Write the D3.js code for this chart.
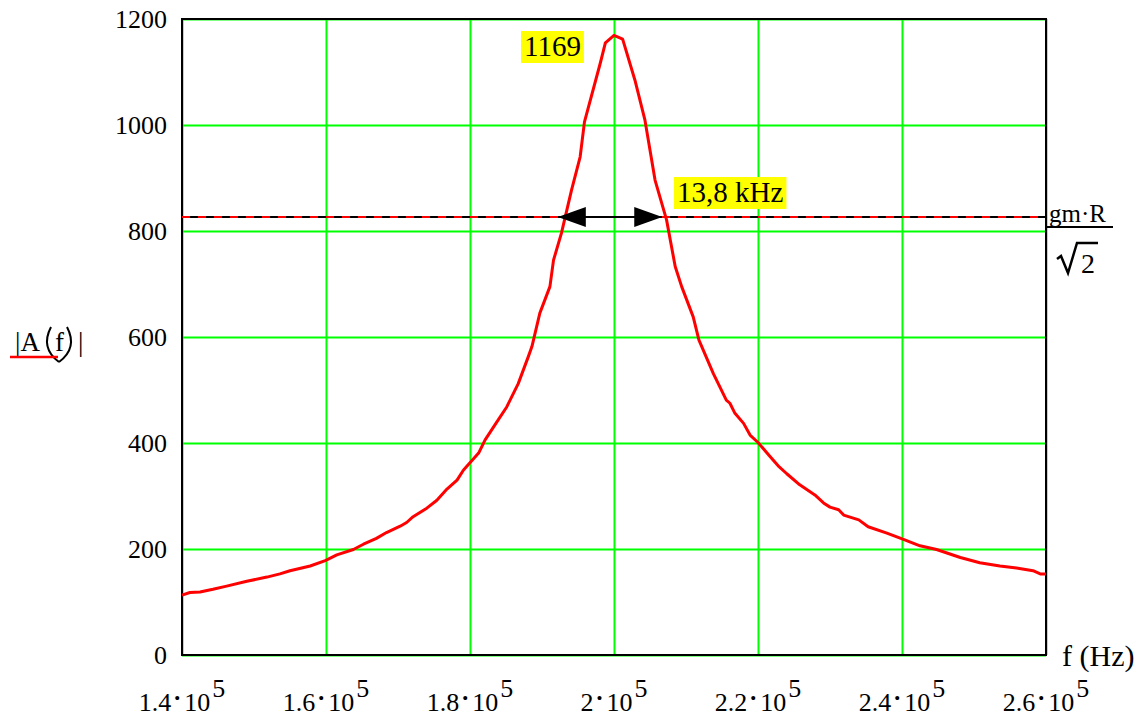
<!DOCTYPE html>
<html>
<head lang="en">
    <meta charset="UTF-8">
    <title>|A(f)|</title>
    <style>
        body { margin: 0; background: #fff; }
        text { font-family: "Liberation Serif", "Times New Roman", serif; fill: #000; }
    </style>
</head>
<body>

<script src="https://cdn.jsdelivr.net/npm/d3@7"></script>
<script>

    // frequency in kHz, |A(f)|
    var freq = [140.0, 141.1, 142.5, 144.3, 146.2, 149.0, 151.8, 153.6, 155.0, 157.8,
                159.9, 161.5, 163.8, 165.2, 167.0, 168.4, 170.3, 171.2, 172.1, 174.0,
                175.4, 176.8, 178.2, 179.1, 181.2, 182.1, 183.6, 185.1, 186.7, 188.1,
                188.6, 189.7, 191.1, 191.6, 192.7, 194.1, 195.3, 195.9, 198.1, 198.8,
                200.0, 201.2, 202.9, 204.3, 205.7, 207.3, 208.5, 209.4, 211.0, 211.8,
                213.8, 215.6, 216.1, 216.8, 218.0, 218.9, 220.0, 221.7, 222.8, 224.0,
                225.8, 227.9, 229.1, 230.0, 231.2, 231.9, 234.0, 235.3, 237.9, 240.2,
                242.5, 244.8, 248.1, 250.8, 253.6, 255.9, 258.2, 259.2, 260.0];
    var amp  = [113, 118, 119, 124, 130, 139, 147, 153, 159, 168,
                178, 189, 199, 209, 220, 231, 243, 250, 261, 277,
                292, 313, 330, 349, 381, 406, 437, 468, 512, 563,
                582, 645, 695, 745, 796, 877, 940, 1006, 1117, 1155,
                1169, 1162, 1085, 1009, 896, 821, 733, 695, 638, 594,
                531, 481, 475, 456, 437, 415, 401, 374, 357, 342,
                321, 302, 287, 279, 274, 264, 255, 242, 230, 218,
                206, 199, 184, 174, 168, 164, 159, 153, 153];

    var xTicks = [140, 160, 180, 200, 220, 240, 260];
    var xTickLabels = ['1.4', '1.6', '1.8', '2', '2.2', '2.4', '2.6'];
    var yTicks = [0, 200, 400, 600, 800, 1000, 1200];

    var peak = 1169;
    var halfPower = 826.6;          // gm*R / sqrt(2)
    var band = [192.2, 206.7];      // 13,8 kHz bandwidth arrow

    var w = 1148,
        h = 720;
    var pLeft = 182, pRight = 1046, pTop = 19, pBottom = 655;

    var svg = d3.select('body')
            .append('svg')
            .attr('width', w)
            .attr('height', h);

    var x = d3.scaleLinear().domain([140, 260]).range([pLeft, pRight]);
    var y = d3.scaleLinear().domain([0, 1200]).range([pBottom, pTop]);

    // grid
    svg.append('g')
            .attr('transform', 'translate(0,' + pBottom + ')')
            .call(d3.axisBottom(x).tickValues(xTicks).tickSize(-(pBottom - pTop)).tickFormat(''))
            .call(function(g) {
                g.select('.domain').remove();
                g.selectAll('line').attr('stroke', '#00ff00').attr('stroke-width', 2);
            });

    svg.append('g')
            .attr('transform', 'translate(' + pLeft + ',0)')
            .call(d3.axisLeft(y).tickValues(yTicks).tickSize(-(pRight - pLeft)).tickPadding(15)
                    .tickFormat(d3.format('d')))
            .call(function(g) {
                g.select('.domain').remove();
                g.selectAll('line').attr('stroke', '#00ff00').attr('stroke-width', 2);
                g.selectAll('text')
                        .attr('font-family', '"Liberation Serif", serif')
                        .attr('font-size', 26)
                        .attr('fill', '#000');
            });

    // frame
    svg.append('rect')
            .attr('x', pLeft)
            .attr('y', pTop)
            .attr('width', pRight - pLeft)
            .attr('height', pBottom - pTop)
            .attr('fill', 'none')
            .attr('stroke', '#000')
            .attr('stroke-width', 2);

    // x tick labels  m • 10^5
    xTicks.forEach(function(d, i) {
        var t = svg.append('text')
                .attr('x', x(d))
                .attr('y', 711)
                .attr('text-anchor', 'middle')
                .attr('font-size', 26);
        t.append('tspan').text(xTickLabels[i]);
        t.append('tspan').attr('font-size', 17).attr('dx', 3).attr('dy', -7).text('\u2022');
        t.append('tspan').attr('dx', 4).attr('dy', 7).text('10');
        t.append('tspan').attr('dx', 2).attr('dy', -14).text('5');
    });

    // half power line
    svg.append('line')
            .attr('x1', pLeft).attr('x2', pRight)
            .attr('y1', y(halfPower)).attr('y2', y(halfPower))
            .attr('stroke', '#000')
            .attr('stroke-width', 2);
    svg.append('line')
            .attr('x1', pLeft).attr('x2', pRight)
            .attr('y1', y(halfPower)).attr('y2', y(halfPower))
            .attr('stroke', '#ff0000')
            .attr('stroke-width', 2)
            .attr('stroke-dasharray', '8,8');

    // curve
    var line = d3.line()
            .x(function(d, i) { return x(freq[i]); })
            .y(function(d) { return y(d); });

    svg.append('path')
            .datum(amp)
            .attr('d', line)
            .attr('fill', 'none')
            .attr('stroke', '#ff0000')
            .attr('stroke-width', 3)
            .attr('stroke-linejoin', 'round');

    // bandwidth arrow
    var ay = y(halfPower),
        ax1 = x(band[0]),
        ax2 = x(band[1]);
    svg.append('line')
            .attr('x1', ax1 + 20).attr('x2', ax2 - 20)
            .attr('y1', ay).attr('y2', ay)
            .attr('stroke', '#000')
            .attr('stroke-width', 2);
    svg.append('path')
            .attr('d', 'M' + ax1 + ',' + ay + 'L' + (ax1 + 28) + ',' + (ay - 10) + 'L' + (ax1 + 28) + ',' + (ay + 10) + 'Z')
            .attr('fill', '#000');
    svg.append('path')
            .attr('d', 'M' + ax2 + ',' + ay + 'L' + (ax2 - 28) + ',' + (ay - 10) + 'L' + (ax2 - 28) + ',' + (ay + 10) + 'Z')
            .attr('fill', '#000');

    // yellow labels
    function tag(label, tx, ty, size) {
        var t = svg.append('text')
                .attr('x', tx)
                .attr('y', ty)
                .attr('font-size', size)
                .text(label);
        var b = t.node().getBBox();
        svg.insert('rect', function() { return t.node(); })
                .attr('x', b.x - 3)
                .attr('y', b.y + 1)
                .attr('width', b.width + 6)
                .attr('height', b.height)
                .attr('fill', '#ffff00');
    }
    tag(String(peak), 524, 56, 29);
    tag('13,8 kHz', 677, 202, 29);

    // axis title
    svg.append('text')
            .attr('x', 1062)
            .attr('y', 666)
            .attr('font-size', 30)
            .text('f (Hz)');

    // |A(f)|
    var ylab = svg.append('g');
    ylab.append('text').attr('x', 15).attr('y', 351).attr('font-size', 27).text('|A');
    ylab.append('text').attr('x', 55).attr('y', 351).attr('font-size', 27).text('f');
    ylab.append('text').attr('x', 78).attr('y', 351).attr('font-size', 27).text('|');
    ylab.append('path')
            .attr('d', 'M51,327 Q40,348 59,362 M67,327 Q78,348 59,362')
            .attr('fill', 'none')
            .attr('stroke', '#000')
            .attr('stroke-width', 2);
    ylab.append('line')
            .attr('x1', 10).attr('x2', 58)
            .attr('y1', 357).attr('y2', 357)
            .attr('stroke', '#ff0000')
            .attr('stroke-width', 2.5);

    // gm.R / sqrt(2)
    var rlab = svg.append('g');
    rlab.append('text').attr('x', 1049).attr('y', 222).attr('font-size', 25).text('gm\u00b7R');
    rlab.append('line')
            .attr('x1', 1046).attr('x2', 1113)
            .attr('y1', 227).attr('y2', 227)
            .attr('stroke', '#000')
            .attr('stroke-width', 2);
    rlab.append('path')
            .attr('d', 'M1057,259 L1061,256 L1068,273 L1077,243 L1098,243')
            .attr('fill', 'none')
            .attr('stroke', '#000')
            .attr('stroke-width', 2.5);
    rlab.append('text').attr('x', 1081).attr('y', 273).attr('font-size', 28).text('2');

</script>
</body>
</html>
